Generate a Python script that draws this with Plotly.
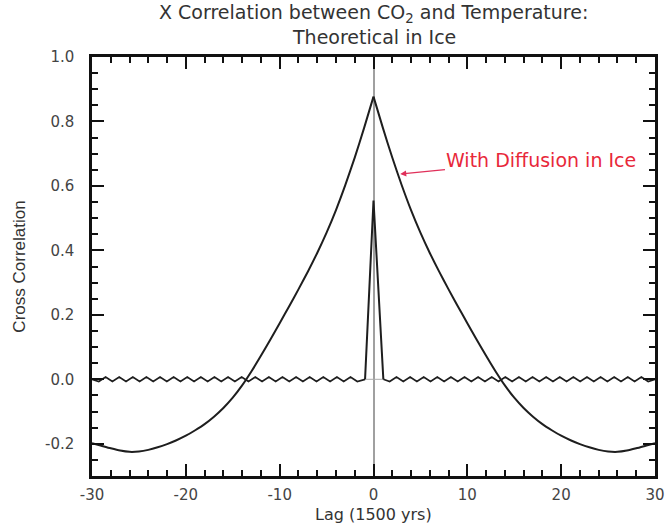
import plotly.graph_objects as go

# ---- data ----
lag = [-30, -29, -28, -27, -26, -25, -24, -23, -22, -21, -20, -19, -18, -17, -16,
       -15, -14, -13, -12, -11, -10, -9, -8, -7, -6, -5, -4, -3, -2, -1,
       0, 1, 2, 3, 4, 5, 6, 7, 8, 9, 10, 11, 12, 13, 14, 15, 16, 17, 18, 19,
       20, 21, 22, 23, 24, 25, 26, 27, 28, 29, 30]
xcorr_diffusion = [-0.198, -0.206, -0.214, -0.221, -0.225, -0.224, -0.219, -0.211, -0.201,
                   -0.189, -0.175, -0.158, -0.139, -0.116, -0.089, -0.057, -0.019, 0.025,
                   0.073, 0.123, 0.174, 0.226, 0.279, 0.334, 0.392, 0.455, 0.525, 0.603,
                   0.688, 0.780,
                   0.877,
                   0.780, 0.688, 0.603, 0.525, 0.455, 0.392, 0.334, 0.279, 0.226, 0.174,
                   0.123, 0.073, 0.025, -0.019, -0.057, -0.089, -0.116, -0.139, -0.158,
                   -0.175, -0.189, -0.201, -0.211, -0.219, -0.224, -0.225, -0.221, -0.214,
                   -0.206, -0.198]

spike_lag = [-0.9, 0.0, 1.05]
spike_val = [0.0, 0.555, 0.0]

zig_lag_left = [-30.0, -29.275, -28.55, -27.825, -27.1, -26.375, -25.65, -24.925, -24.2,
                -23.475, -22.75, -22.025, -21.3, -20.575, -19.85, -19.125, -18.4, -17.675,
                -16.95, -16.225, -15.5, -14.775, -14.05, -13.325, -12.6, -11.875, -11.15,
                -10.425, -9.7, -8.975, -8.25, -7.525, -6.8, -6.075, -5.35, -4.625, -3.9,
                -3.175, -2.45, -1.725, -0.9]
zig_val_left = [0.0, -0.007, 0.007, -0.007, 0.007, -0.007, 0.007, -0.007, 0.007, -0.007,
                0.007, -0.007, 0.007, -0.007, 0.007, -0.007, 0.007, -0.007, 0.007, -0.007,
                0.007, -0.007, 0.007, -0.007, 0.007, -0.007, 0.007, -0.007, 0.007, -0.007,
                0.007, -0.007, 0.007, -0.007, 0.007, -0.007, 0.007, -0.007, 0.007, -0.007,
                0.0]
zig_lag_right = [1.05, 1.725, 2.45, 3.175, 3.9, 4.625, 5.35, 6.075, 6.8, 7.525, 8.25, 8.975,
                 9.7, 10.425, 11.15, 11.875, 12.6, 13.325, 14.05, 14.775, 15.5, 16.225,
                 16.95, 17.675, 18.4, 19.125, 19.85, 20.575, 21.3, 22.025, 22.75, 23.475,
                 24.2, 24.925, 25.65, 26.375, 27.1, 27.825, 28.55, 29.275, 30.0]
zig_val_right = [0.0, -0.007, 0.007, -0.007, 0.007, -0.007, 0.007, -0.007, 0.007, -0.007,
                 0.007, -0.007, 0.007, -0.007, 0.007, -0.007, 0.007, -0.007, 0.007, -0.007,
                 0.007, -0.007, 0.007, -0.007, 0.007, -0.007, 0.007, -0.007, 0.007, -0.007,
                 0.007, -0.007, 0.007, -0.007, 0.007, -0.007, 0.007, -0.007, 0.007, -0.007,
                 0.0]
base_lag = [-0.9, 1.05]
base_val = [0.0, 0.0]

x_tick_vals = [-30, -20, -10, 0, 10, 20, 30]
x_tick_text = ["-30", "-20", "-10", "0", "10", "20", "30"]
y_tick_vals = [-0.2, 0.0, 0.2, 0.4, 0.6, 0.8, 1.0]
y_tick_text = ["-0.2", "0.0", "0.2", "0.4", "0.6", "0.8", "1.0"]

title_lines = ["X Correlation between CO<sub>2</sub> and Temperature:", "Theoretical in Ice"]
x_title = "Lag (1500 yrs)"
y_title = "Cross Correlation"
note_text = "With Diffusion in Ice"

LINE = "#1e1e1e"
WIDE = "DejaVu Sans, Verdana, sans-serif"
NARROW = "Liberation Sans, Arial, sans-serif"
PEAK = lag.index(0)
PLOT_H = 419  # plot-area height in px, used to place paper-anchored texts

fig = go.Figure()
fig.add_trace(go.Scatter(x=base_lag, y=base_val, mode="lines",
                         line=dict(color="#aaaaaa", width=1), showlegend=False))
# broad curve: two halves so the cusp at lag 0 stays sharp
fig.add_trace(go.Scatter(x=lag[:PEAK + 1], y=xcorr_diffusion[:PEAK + 1], mode="lines",
                         line=dict(color=LINE, width=2, shape="spline", smoothing=0.6),
                         showlegend=False))
fig.add_trace(go.Scatter(x=lag[PEAK:], y=xcorr_diffusion[PEAK:], mode="lines",
                         line=dict(color=LINE, width=2, shape="spline", smoothing=0.6),
                         showlegend=False))
fig.add_trace(go.Scatter(x=zig_lag_left, y=zig_val_left, mode="lines",
                         line=dict(color=LINE, width=1.7), showlegend=False))
fig.add_trace(go.Scatter(x=zig_lag_right, y=zig_val_right, mode="lines",
                         line=dict(color=LINE, width=1.7), showlegend=False))
fig.add_trace(go.Scatter(x=spike_lag, y=spike_val, mode="lines",
                         line=dict(color=LINE, width=2), showlegend=False))

fig.add_annotation(x=2.85, y=0.637, xref="x", yref="y",
                   ax=17.9, ay=0.68, axref="x", ayref="y",
                   text=note_text, showarrow=True,
                   arrowhead=2, arrowsize=1, arrowwidth=1.2, arrowcolor="#e0305a",
                   standoff=0, startstandoff=0,
                   font=dict(family=WIDE, size=19, color="#e8283a"))

# title lines as paper annotations
fig.add_annotation(x=0.5, y=1 + (57 - 13) / PLOT_H, xref="paper", yref="paper",
                   xanchor="center", yanchor="middle", showarrow=False,
                   text=title_lines[0], borderpad=0,
                   font=dict(family=WIDE, size=19, color="#333333"))
fig.add_annotation(x=0.5, y=1 + (57 - 37) / PLOT_H, xref="paper", yref="paper",
                   xanchor="center", yanchor="middle", showarrow=False,
                   text=title_lines[1], borderpad=0,
                   font=dict(family=WIDE, size=19, color="#333333"))
# x-axis title
fig.add_annotation(x=0.5, y=-(514 - 476) / PLOT_H, xref="paper", yref="paper",
                   xanchor="center", yanchor="middle", showarrow=False,
                   text=x_title, borderpad=0,
                   font=dict(family=WIDE, size=16, color="#333333"))

axis_common = dict(
    showline=True, linewidth=2.5, linecolor="#111111", mirror="ticks",
    ticks="inside", ticklen=12, tickwidth=2, tickcolor="#111111",
    showgrid=False, automargin=False, ticklabeloverflow="allow",
    tickfont=dict(family=WIDE, size=15, color="#444444"),
)

fig.update_xaxes(range=[-30, 30], tickmode="array", tickvals=x_tick_vals,
                 ticktext=x_tick_text,
                 minor=dict(dtick=2, tick0=0, ticks="inside", ticklen=6,
                            tickwidth=1.5, tickcolor="#111111", showgrid=False),
                 zeroline=True, zerolinecolor="#a0a0a0", zerolinewidth=1.5,
                 ticklabelstandoff=3,
                 **axis_common)
fig.update_yaxes(range=[-0.3, 1.0], tickmode="array", tickvals=y_tick_vals,
                 ticktext=y_tick_text,
                 minor=dict(dtick=0.05, tick0=0, ticks="inside", ticklen=6,
                            tickwidth=1.5, tickcolor="#111111", showgrid=False),
                 zeroline=False,
                 title=dict(text=y_title, standoff=16,
                            font=dict(family=NARROW, size=17, color="#333333")),
                 ticklabelstandoff=12,
                 **axis_common)

fig.update_layout(
    width=665, height=524,
    margin=dict(l=92, r=10, t=57, b=48),
    paper_bgcolor="white", plot_bgcolor="white",
)

fig.write_html("out.html")
